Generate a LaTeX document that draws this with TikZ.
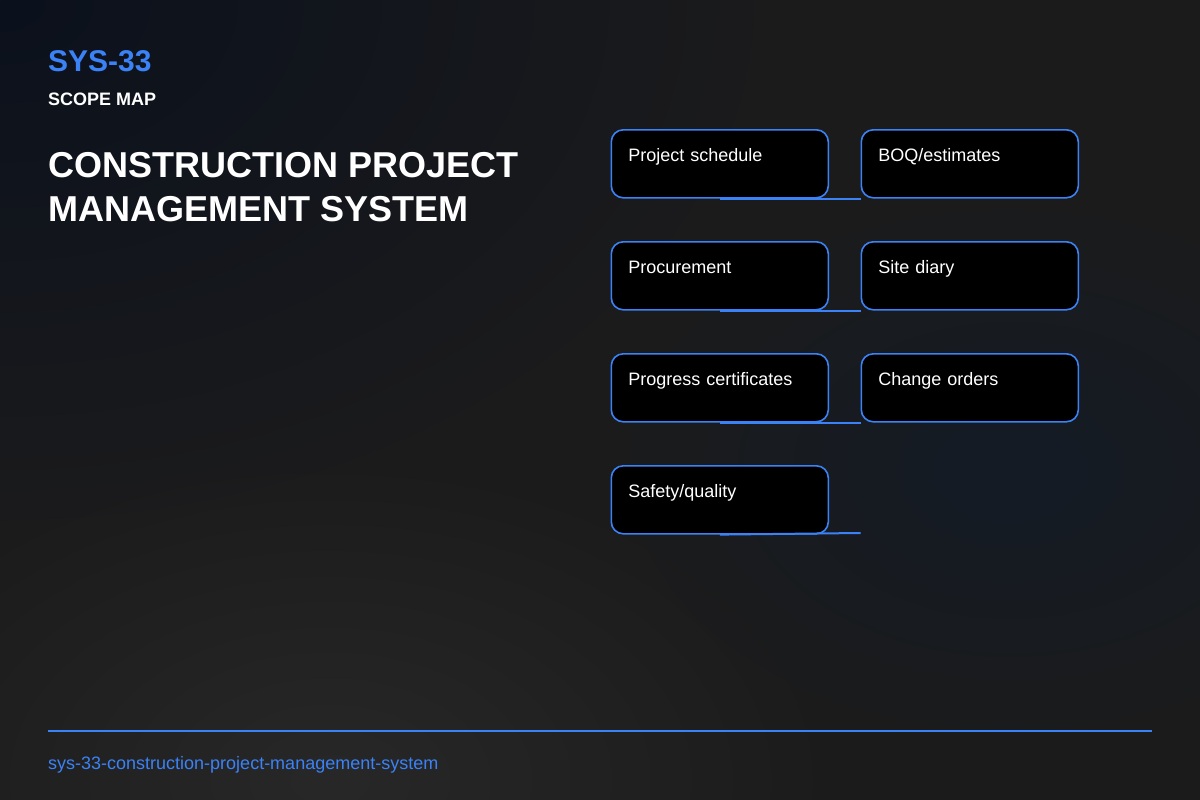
\documentclass[tikz,border=0pt]{standalone}
\usepackage{fontspec}
\setmainfont{Liberation Sans}
\usepackage{xcolor}
\usetikzlibrary{fadings}
\definecolor{accent}{RGB}{59,130,246}
\definecolor{bgbase}{RGB}{27,27,28}
\definecolor{bgnavy}{RGB}{11,17,29}
\definecolor{bgsteel}{RGB}{20,27,38}
\definecolor{bglight}{RGB}{40,40,40}
\tikzfading[name=spotfade, inner color=transparent!0, outer color=transparent!100]
\tikzset{
	modbox/.style={draw=accent, line width=1.6pt, fill=black, rounded corners=12pt,
		anchor=north west, text width=183pt, align=left, inner xsep=17pt, inner ysep=0pt,
		text height=32pt, text depth=36pt, text=white, font=\fontsize{18}{21}\selectfont},
	link/.style={draw=accent, line width=2pt, yshift=-1.5pt},
	headtext/.style={anchor=base west, inner sep=0pt, text=white},
}

\begin{document}
\begin{tikzpicture}[x=1pt, y=-1pt]
			\useasboundingbox (0, 0) rectangle (1200, 800);
			% background
			\fill[bgbase] (0, 0) rectangle (1200, 800);
			\fill[bgnavy, path fading=spotfade] (0, 0) ellipse (760 and 520);
			\fill[bglight, path fading=spotfade] (330, 780) ellipse (520 and 330);
			\fill[bgsteel, path fading=spotfade] (1010, 470) ellipse (380 and 260);
			% header
			\node[headtext, text=accent, font=\fontsize{30}{36}\selectfont\bfseries] (sysid) at (48, 72) {SYS-33};
			\node[headtext, font=\fontsize{18}{22}\selectfont\bfseries] (kind) at (48, 106) {SCOPE MAP};
			\node[headtext, font=\fontsize{36}{44}\selectfont\bfseries] (title) at (48, 177) {CONSTRUCTION PROJECT};
			\node[headtext, font=\fontsize{36}{44}\selectfont\bfseries] (subtitle) at (48, 221) {MANAGEMENT SYSTEM};
			% scope boxes
			\node[modbox] (sched) at (610.5, 129) {Project schedule};
			\node[modbox] (boq) at (860.5, 129) {BOQ/estimates};
			\node[modbox] (procure) at (610.5, 241) {Procurement};
			\node[modbox] (diary) at (860.5, 241) {Site diary};
			\node[modbox] (certs) at (610.5, 353) {Progress certificates};
			\node[modbox] (changes) at (860.5, 353) {Change orders};
			\node[modbox] (safety) at (610.5, 465) {Safety/quality};
			\coordinate (safetyend) at (860.5, 533);
			% links
			\draw[link] (sched.south) -- (sched.south -| boq.west);
			\draw[link] (procure.south) -- (procure.south -| diary.west);
			\draw[link] (certs.south) -- (certs.south -| changes.west);
			\draw[link] (safety.south) -- (safetyend);
			% footer
			\draw[accent, line width=2pt] (48, 731) -- (1152, 731);
			\node[headtext, text=accent, font=\fontsize{18}{22}\selectfont] (slug) at (48, 769) {sys-33-construction-project-management-system};
		\end{tikzpicture}
\end{document}
